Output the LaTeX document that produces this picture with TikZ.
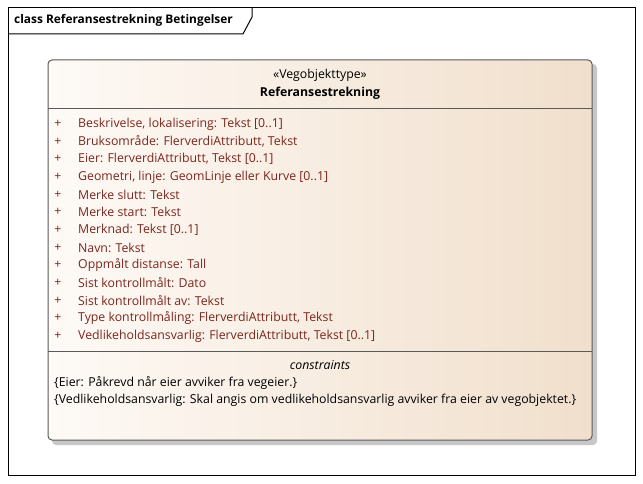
\documentclass[tikz,border=0pt]{standalone}
\usepackage{fontspec}
\setmainfont{Open Sans}
\usepackage{xcolor}
\usetikzlibrary{positioning, shadows, backgrounds}
\definecolor{attrred}{RGB}{122,38,30}
\definecolor{classlight}{RGB}{254,250,246}
\definecolor{classdark}{RGB}{241,223,204}
\definecolor{framegray}{RGB}{90,90,90}
\newcommand{\umlfont}{\fontsize{12.3}{14}\selectfont}
\tikzset{
frame line/.style = { draw = black, line width = 1pt },
class box/.style = { draw = framegray, line width = 1pt, rounded corners = 4pt, left color = classlight, right color = classdark },
box shadow/.style = { fill = black!22, rounded corners = 4pt },
sep line/.style = { draw = framegray, line width = 1pt },
attr/.style = { anchor = west, inner sep = 0pt, text = attrred, font = \umlfont },
plus/.style = { anchor = center, inner sep = 0pt, text = attrred, font = \umlfont },
plain/.style = { inner sep = 0pt, text = black, font = \umlfont },
}

\begin{document}
\begin{tikzpicture}[x = 1pt, y = -1pt]
    \useasboundingbox (0, 0) rectangle (643, 484);
    \fill[white] (0, 0) rectangle (643, 484);
    % diagram frame and its name tab
    \draw[frame line] (8, 8) rectangle (635, 475);
    \draw[frame line] (8, 34) -- (243, 34) -- (252, 17) -- (252, 8);
    \node[plain, anchor = west, font = \fontsize{11.9}{14}\selectfont\bfseries] (title) at (14, 20) {class Referansestrekning Betingelser};
    % class box
    \fill[box shadow] (52, 64) rectangle (597, 445);
    \path[class box] (48, 60) rectangle (592, 440);
    \draw[sep line] (48, 109) -- (592, 109);
    \draw[sep line] (48, 351) -- (592, 351);
    \node[plain] (stereo) at (320, 75) {«Vegobjekttype»};
    \node[plain, font = \umlfont\bfseries] (classname) at (320, 93) {Referansestrekning};
    % attributes
    \node[plus] (p1) at (58, 124) {+};
    \node[plus] (p2) at (58, 141.7) {+};
    \node[plus] (p3) at (58, 159.3) {+};
    \node[plus] (p4) at (58, 177) {+};
    \node[plus] (p5) at (58, 194.7) {+};
    \node[plus] (p6) at (58, 212.3) {+};
    \node[plus] (p7) at (58, 230) {+};
    \node[plus] (p8) at (58, 247.7) {+};
    \node[plus] (p9) at (58, 265.3) {+};
    \node[plus] (p10) at (58, 283) {+};
    \node[plus] (p11) at (58, 300.7) {+};
    \node[plus] (p12) at (58, 318.3) {+};
    \node[plus] (p13) at (58, 336) {+};
    \node[attr] (a1) at (78, 124) {Beskrivelse, lokalisering: Tekst [0..1]};
    \node[attr] (a2) at (78, 141.7) {Bruksområde: FlerverdiAttributt, Tekst};
    \node[attr] (a3) at (78, 159.3) {Eier: FlerverdiAttributt, Tekst [0..1]};
    \node[attr] (a4) at (78, 177) {Geometri, linje: GeomLinje eller Kurve [0..1]};
    \node[attr] (a5) at (78, 194.7) {Merke slutt: Tekst};
    \node[attr] (a6) at (78, 212.3) {Merke start: Tekst};
    \node[attr] (a7) at (78, 230) {Merknad: Tekst [0..1]};
    \node[attr] (a8) at (78, 247.7) {Navn: Tekst};
    \node[attr] (a9) at (78, 265.3) {Oppmålt distanse: Tall};
    \node[attr] (a10) at (78, 283) {Sist kontrollmålt: Dato};
    \node[attr] (a11) at (78, 300.7) {Sist kontrollmålt av: Tekst};
    \node[attr] (a12) at (78, 318.3) {Type kontrollmåling: FlerverdiAttributt, Tekst};
    \node[attr] (a13) at (78, 336) {Vedlikeholdsansvarlig: FlerverdiAttributt, Tekst [0..1]};
    % constraints
    \node[plain, font = \umlfont\itshape] (constr) at (320, 365) {constraints};
    \node[plain, anchor = west] (c1) at (54, 382.5) {\{Eier: Påkrevd når eier avviker fra vegeier.\}};
    \node[plain, anchor = west] (c2) at (54, 400) {\{Vedlikeholdsansvarlig: Skal angis om vedlikeholdsansvarlig avviker fra eier av vegobjektet.\}};
\end{tikzpicture}
\end{document}
